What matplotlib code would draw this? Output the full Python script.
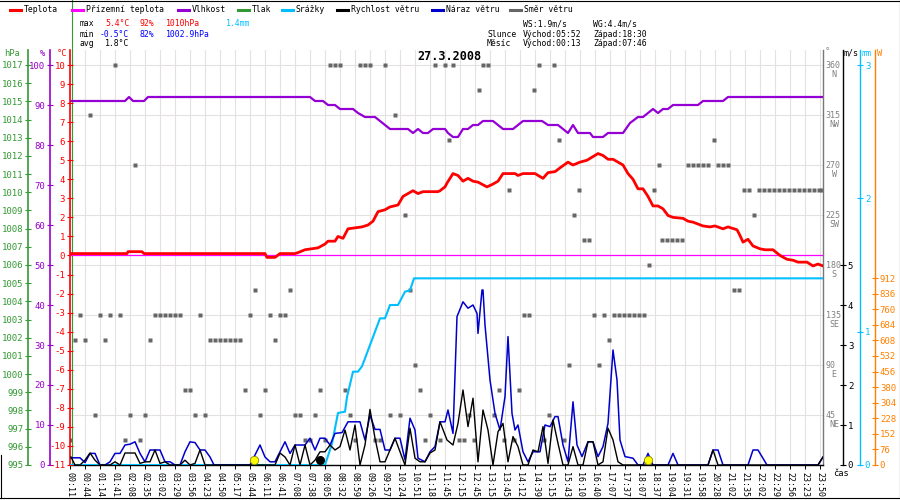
import numpy as np
import matplotlib
matplotlib.use('Agg')
import matplotlib.pyplot as plt
import matplotlib.transforms as mtransforms
from matplotlib.lines import Line2D

plt.rcParams['font.family'] = ['DejaVu Sans Mono', 'DejaVu Sans']
plt.rcParams['font.size'] = 6
plt.rcParams['axes.unicode_minus'] = False

# --- time axis (sample index -> label every 15 samples)
time_labels = ['00:11', '00:44', '01:14', '01:41', '02:08', '02:35', '03:02', '03:29', '03:56',
               '04:23', '04:50', '05:17', '05:44', '06:11', '06:41', '07:08', '07:38', '08:05',
               '08:32', '08:59', '09:26', '09:57', '10:24', '10:51', '11:18', '11:45', '12:15',
               '12:45', '13:15', '13:45', '14:12', '14:39', '15:15', '15:43', '16:10', '16:40',
               '17:07', '17:37', '18:07', '18:37', '19:04', '19:31', '19:58', '20:28', '21:02',
               '21:35', '22:02', '22:29', '22:56', '23:23', '23:50']

# --- temperature (degC)
temp_x = [0, 57, 58, 72, 74, 195, 197, 205, 210, 225, 228, 235, 248, 255, 258, 265, 268, 273, 278,
          285, 292, 298, 303, 308, 315, 320, 328, 333, 343, 348, 353, 368, 370, 375, 377, 383, 388,
          393, 398, 403, 408, 417, 423, 428, 433, 445, 448, 453, 465, 473, 478, 485, 490, 498, 503,
          510, 517, 528, 533, 538, 543, 553, 558, 563, 568, 573, 578, 583, 588, 593, 598, 603, 613,
          618, 623, 633, 640, 645, 653, 658, 667, 670, 673, 678, 683, 690, 695, 703, 710, 717, 723,
          728, 737, 743, 748, 753]
temp_y = [0.1, 0.1, 0.2, 0.2, 0.1, 0.1, -0.1, -0.1, 0.1, 0.1, 0.15, 0.3, 0.4, 0.6, 0.75, 0.75, 1.0,
          0.9, 1.4, 1.45, 1.5, 1.6, 1.8, 2.3, 2.4, 2.55, 2.65, 3.1, 3.4, 3.25, 3.35, 3.35, 3.4, 3.6,
          3.8, 4.3, 4.2, 3.9, 4.05, 3.9, 3.85, 3.6, 3.75, 3.9, 4.3, 4.3, 4.2, 4.3, 4.3, 4.05, 4.35,
          4.4, 4.6, 4.9, 4.75, 4.9, 5.0, 5.35, 5.25, 5.05, 5.05, 4.75, 4.3, 4.0, 3.5, 3.5, 3.1, 2.6,
          2.6, 2.45, 2.1, 2.0, 1.95, 1.8, 1.75, 1.55, 1.5, 1.55, 1.4, 1.5, 1.35, 1.05, 0.7, 0.85,
          0.5, 0.35, 0.3, 0.3, 0.0, -0.2, -0.25, -0.35, -0.35, -0.55, -0.45, -0.55]

# --- ground temperature (degC)
ground_x = [0, 753]
ground_y = [0.0, 0.0]

# --- humidity (%)
hum_x = [0, 55, 59, 63, 74, 78, 240, 245, 253, 258, 265, 270, 283, 288, 295, 305, 310, 315, 320,
         338, 343, 348, 353, 358, 363, 375, 378, 383, 388, 393, 398, 403, 408, 413, 423, 433, 443,
         453, 472, 478, 488, 498, 503, 508, 520, 523, 533, 538, 553, 560, 568, 573, 583, 588, 593,
         598, 603, 628, 633, 653, 658, 753]
hum_y = [91, 91, 92, 91, 91, 92, 92, 91, 91, 90, 90, 89, 89, 88, 87, 87, 86, 85, 84, 84, 83, 84,
         83, 83, 84, 84, 83, 82, 82, 84, 84, 85, 85, 86, 86, 84, 84, 86, 86, 85, 85, 83, 85, 83,
         83, 82, 82, 83, 83, 85.5, 87, 87, 89, 88, 89, 89, 90, 90, 91, 91, 92, 92]

# --- precipitation (mm, cumulative)
rain_x = [0, 255, 262, 268, 275, 277, 283, 288, 292, 310, 315, 320, 328, 335, 340, 344, 753]
rain_y = [0, 0, 0.16, 0.39, 0.40, 0.51, 0.70, 0.70, 0.74, 1.10, 1.10, 1.20, 1.20, 1.30, 1.31, 1.40, 1.40]

# --- wind speed (m/s)
ws_x = [1, 5, 10, 15, 20, 25, 30, 40, 45, 50, 55, 65, 70, 75, 80, 85, 90, 95, 100, 110, 115, 120,
        125, 130, 135, 205, 210, 215, 220, 225, 230, 235, 240, 245, 250, 255, 260, 265, 270, 275,
        280, 285, 290, 295, 300, 305, 310, 315, 325, 330, 335, 340, 345, 350, 355, 360, 365, 370,
        377, 383, 388, 393, 398, 403, 408, 413, 418, 423, 428, 433, 438, 443, 448, 453, 458, 463,
        468, 473, 478, 483, 488, 493, 498, 503, 508, 513, 518, 523, 528, 533, 538, 543, 548, 553,
        638, 643, 648, 748, 753]
ws_y = [0.2, 0, 0, 0.12, 0.3, 0.12, 0, 0, 0.08, 0, 0.3, 0.3, 0.04, 0.08, 0.08, 0.375, 0.04, 0.08,
        0, 0, 0.12, 0, 0.04, 0.375, 0, 0, 0.3, 0.2, 0, 0.5, 0, 0.5, 0, 0.12, 0.33, 0.33, 0.5, 0.375,
        0.46, 0.875, 0.375, 1.0, 0, 0.5, 1.39, 0.67, 0.08, 0.08, 0.67, 0.33, 0, 0.92, 0.17, 0.08,
        0.08, 0.3, 0.375, 1.08, 0.625, 0.5, 1.04, 1.875, 0.96, 1.67, 0.08, 1.375, 0.875, 0, 0.83,
        1.04, 0.08, 0.71, 0.46, 0, 0, 0.375, 0.33, 0.96, 0.04, 1.125, 0.54, 0, 0, 0.46, 0, 0, 0.58,
        0.58, 0, 0.08, 0.92, 0.625, 0.08, 0, 0, 0.375, 0, 0, 0.2]

# --- wind gust (m/s)
wg_x = [1, 10, 15, 20, 25, 30, 35, 40, 45, 50, 55, 60, 65, 70, 75, 80, 90, 95, 100, 105, 110, 115,
        120, 125, 130, 135, 140, 144, 180, 190, 195, 200, 205, 210, 215, 220, 225, 235, 240, 245,
        250, 255, 260, 265, 272, 278, 290, 295, 300, 305, 310, 315, 320, 325, 330, 335, 340, 345,
        348, 355, 360, 365, 370, 375, 378, 383, 387, 393, 398, 403, 407, 408, 412, 413, 415, 420,
        425, 430, 435, 438, 442, 445, 448, 453, 458, 463, 470, 475, 480, 485, 488, 493, 498, 503,
        507, 512, 518, 523, 528, 533, 538, 543, 547, 550, 555, 563, 568, 573, 578, 583, 598, 603,
        608, 638, 643, 648, 653, 678, 683, 688, 697, 748, 753]
wg_y = [0.18, 0.18, 0.06, 0.29, 0.29, 0, 0, 0.08, 0.29, 0.29, 0.5, 0.52, 0.58, 0.29, 0.08, 0.375,
        0.375, 0.08, 0.08, 0, 0, 0.33, 0.58, 0.56, 0.375, 0.375, 0.2, 0, 0, 0.5, 0.2, 0.08, 0.08,
        0.33, 0.58, 0.29, 0.5, 0.5, 0.67, 0.375, 0.67, 0.67, 0.5, 0.79, 0.81, 1.08, 1.08, 0.625,
        1.25, 0.89, 0.89, 0.375, 0.375, 0.67, 0.67, 0.125, 1.17, 0.875, 0.17, 0.08, 0.33, 0.46,
        1.08, 1.08, 1.375, 0.79, 3.71, 4.08, 3.92, 4.0, 3.79, 3.29, 4.375, 4.375, 3.5, 2.125, 1.29,
        0.875, 1.71, 3.21, 1.29, 0.875, 1.0, 0.33, 0.08, 0.33, 0.33, 1.0, 0.96, 1.21, 1.21, 0.5,
        0.08, 1.58, 0.5, 0.21, 0.58, 0.58, 0.21, 0.46, 1.04, 2.875, 2.125, 0.625, 0.21, 0.17, 0,
        0, 0.29, 0, 0, 0.29, 0, 0, 0.375, 0.375, 0, 0, 0.375, 0.375, 0, 0, 0.2]

# --- wind direction (deg)
dir_x = [0, 5, 10, 15, 20, 25, 30, 35, 40, 45, 50, 55, 60, 65, 70, 75, 80, 85, 90, 95, 100, 105,
         110, 115, 120, 125, 130, 135, 140, 145, 150, 155, 160, 165, 170, 175, 180, 185, 190, 195,
         200, 205, 210, 215, 220, 225, 230, 235, 240, 245, 250, 255, 260, 265, 270, 275, 280, 285,
         290, 295, 300, 305, 310, 315, 320, 325, 330, 335, 340, 345, 350, 355, 360, 365, 370, 375,
         379, 383, 389, 394, 399, 404, 409, 413, 418, 424, 429, 434, 439, 444, 449, 454, 459, 464,
         469, 474, 479, 484, 489, 494, 499, 504, 509, 514, 519, 524, 529, 534, 539, 544, 549, 554,
         559, 564, 569, 574, 579, 584, 589, 592, 597, 602, 607, 612, 618, 623, 628, 633, 638, 644,
         648, 653, 658, 664, 669, 674, 679, 684, 689, 694, 699, 704, 709, 714, 719, 724, 729, 734,
         739, 744, 749, 752]
dir_y = [22.5, 112.5, 135, 112.5, 315, 45, 135, 112.5, 135, 360, 135, 22.5, 45, 270, 22.5, 45,
         112.5, 135, 135, 135, 135, 135, 135, 67.5, 67.5, 45, 135, 45, 112.5, 112.5, 112.5, 112.5,
         112.5, 112.5, 112.5, 67.5, 135, 157.5, 45, 67.5, 135, 112.5, 135, 135, 157.5, 45, 45, 22.5,
         22.5, 45, 67.5, 22.5, 360, 360, 360, 67.5, 45, 22.5, 360, 360, 360, 22.5, 22.5, 360, 45,
         315, 45, 225, 157.5, 90, 67.5, 22.5, 45, 360, 22.5, 360, 292.5, 360, 22.5, 22.5, 45, 22.5,
         337.5, 360, 360, 45, 67.5, 22.5, 247.5, 22.5, 67.5, 135, 135, 337.5, 360, 22.5, 45, 360,
         292.5, 22.5, 90, 225, 247.5, 202.5, 202.5, 135, 90, 135, 112.5, 135, 135, 135, 135, 135,
         135, 135, 180, 247.5, 270, 202.5, 202.5, 202.5, 202.5, 202.5, 270, 270, 270, 270, 270,
         292.5, 270, 270, 270, 157.5, 157.5, 247.5, 247.5, 225, 247.5, 247.5, 247.5, 247.5, 247.5,
         247.5, 247.5, 247.5, 247.5, 247.5, 247.5, 247.5, 247.5, 247.5]

# sunrise/sunset and moon markers (sample index)
sun_x = [184, 578]
moon_x = [250]

RED = '#ff0000'
MAG = '#ff00ff'
PUR = '#9400d3'
GRN = '#339933'
CYAN = '#00bfff'
BLUE = '#0000cc'
GRAY = '#666666'
ORANGE = '#ff8000'

W, H = 900, 500


def fx(px):
    return px / W


def fy(py):
    return 1 - py / H


def lims(v0, v1):
    # v0 at bottom (y=465), v1 at y=65, axes top at y=50
    return v0, v1 + (v1 - v0) * 15 / 400


fig = plt.figure(figsize=(9, 5), dpi=100, facecolor='white')
rect = [fx(70), fy(465), (823 - 70) / W, 415 / H]

# base axis: wind direction + grid + time axis
ax_dir = fig.add_axes(rect)
ax_p = ax_dir.twinx()
ax_h = ax_dir.twinx()
ax_t = ax_dir.twinx()
ax_mm = ax_dir.twinx()
ax_w = ax_dir.twinx()
ax_ws = ax_dir.twinx()
for z, a in enumerate([ax_dir, ax_p, ax_h, ax_t, ax_mm, ax_w, ax_ws]):
    a.set_zorder(z + 1)
    a.patch.set_visible(False)
    for s in a.spines.values():
        s.set_visible(False)

ax_dir.set_xlim(0, 753)
ticks = np.arange(0, 751, 15)
ax_dir.set_xticks(ticks)
ax_dir.set_xticklabels(time_labels, rotation=270, fontsize=6)
ax_dir.tick_params(axis='x', length=3, width=0.7, pad=2, color='black')
ax_dir.spines['bottom'].set_visible(True)
ax_dir.spines['bottom'].set_color('black')
ax_dir.spines['bottom'].set_linewidth(1)
ax_dir.grid(True, color='#e6e1e1', lw=0.8)
ax_dir.set_axisbelow(True)

# direction axis (right, gray)
ax_dir.set_ylim(lims(0, 360))
ax_dir.yaxis.tick_right()
ax_dir.set_yticks([0, 45, 90, 135, 180, 225, 270, 315, 360])
ax_dir.set_yticklabels([])
ax_dir.tick_params(axis='y', length=0)
ax_dir.spines['right'].set_visible(True)
ax_dir.spines['right'].set_color('#777777')
ax_dir.spines['right'].set_linewidth(1)
dir_names = ['NE', 'E', 'SE', 'S', 'SW', 'W', 'NW', 'N']
btr = mtransforms.blended_transform_factory(ax_dir.transAxes, ax_dir.transData)
for ang, name in zip([45, 90, 135, 180, 225, 270, 315, 360], dir_names):
    ax_dir.annotate(str(ang), xy=(1, ang), xycoords=btr, xytext=(2, 0), textcoords='offset points',
                    va='center', ha='left', color='#808080', fontsize=6, annotation_clip=False)
    ax_dir.annotate(name, xy=(1, ang), xycoords=btr, xytext=(8, -7), textcoords='offset points',
                    va='center', ha='center', color='#808080', fontsize=6, annotation_clip=False)
ax_dir.plot(dir_x, dir_y, 's', color=GRAY, ms=3.2, mec='none')


def left_axis(a, pos, color, ticks, lim):
    a.yaxis.tick_left()
    a.spines['left'].set_visible(True)
    a.spines['left'].set_position(('axes', pos))
    a.spines['left'].set_color(color)
    a.spines['left'].set_linewidth(1.2)
    a.set_ylim(lim)
    a.set_yticks(ticks)
    a.tick_params(axis='y', direction='inout', length=4, width=0.8, colors=color, pad=1.5,
                  labelsize=6.5)


def right_axis(a, pos, color, ticks, lim):
    a.yaxis.tick_right()
    a.spines['right'].set_visible(True)
    a.spines['right'].set_position(('axes', pos))
    a.spines['right'].set_color(color)
    a.spines['right'].set_linewidth(1.0)
    a.set_ylim(lim)
    a.set_yticks(ticks)
    a.tick_params(axis='y', direction='inout', length=4, width=0.8, colors=color, pad=1.5,
                  labelsize=6.5)


left_axis(ax_p, -42 / 753, GRN, np.arange(995, 1018), lims(995, 1017))
left_axis(ax_h, -20 / 753, '#9900cc', np.arange(0, 101, 10), lims(0, 100))
left_axis(ax_t, 0, RED, np.arange(-11, 11), lims(-11, 10))
right_axis(ax_ws, 20 / 753 + 1, 'black', np.arange(0, 6), lims(0, 10))
right_axis(ax_mm, 37 / 753 + 1, CYAN, np.arange(0, 4), lims(0, 3))
right_axis(ax_w, 52 / 753 + 1, ORANGE, np.arange(0, 913, 76), (0, 912 * 415 / 187))

# series
ax_h.plot(hum_x, hum_y, color=PUR, lw=1.6)
ax_t.plot(ground_x, ground_y, color=MAG, lw=0.9)
ax_t.plot(temp_x, temp_y, color=RED, lw=2.0)
ax_mm.plot(rain_x, rain_y, color=CYAN, lw=1.5)
ax_ws.plot(wg_x, wg_y, color=BLUE, lw=1.1)
ax_ws.plot(ws_x, ws_y, color='black', lw=1.0)
ax_ws.plot(sun_x, [0.12] * len(sun_x), 'o', color='#ffff00', mec='#888800', mew=0.6, ms=6)
ax_ws.plot(moon_x, [0.12] * len(moon_x), 'o', color='black', ms=5.5)

# vertical green line through header
fig.add_artist(Line2D([fx(71.5), fx(71.5)], [fy(0), fy(465)], color=GRN, lw=0.8))

# frame
for xs, ys in [((0, 900), (0.5, 0.5)), ((899.5, 899.5), (0, 498)), ((0, 900), (498, 498)),
               ((0.5, 0.5), (455, 498))]:
    fig.add_artist(Line2D([fx(xs[0]), fx(xs[1])], [fy(ys[0]), fy(ys[1])], color='black', lw=0.8))

# legend
legend_items = [(10, 'Teplota', RED), (72, 'Přízemní teplota', MAG), (178, 'Vlhkost', PUR),
                (238, 'Tlak', GRN), (282, 'Srážky', CYAN), (337, 'Rychlost větru', 'black'),
                (432, 'Náraz větru', BLUE), (510, 'Směr větru', GRAY)]
for x0, label, c in legend_items:
    fig.add_artist(Line2D([fx(x0), fx(x0 + 11)], [fy(9.5), fy(9.5)], color=c, lw=2.2))
    fig.text(fx(x0 + 14), fy(10), label, fontsize=5.9, va='center', ha='left')


# stats block
def t(x, y, s, c='black', size=5.9, **kw):
    fig.text(fx(x), fy(y), s, color=c, fontsize=size, va='center', ha='left', **kw)


t(80, 24, 'max')
t(105, 24, '5.4°C', RED)
t(139, 24, '92%', RED)
t(166, 24, '1010hPa', RED)
t(226, 24, '1.4mm', CYAN)
t(80, 34, 'min')
t(100, 34, '-0.5°C', '#0000ff')
t(139, 34, '82%', '#0000ff')
t(166, 34, '1002.9hPa', '#0000ff')
t(80, 44, 'avg')
t(105, 44, '1.8°C')

t(523, 24, 'WS:1.9m/s')
t(593, 24, 'WG:4.4m/s')
t(487, 34, 'Slunce')
t(523, 34, 'Východ:05:52')
t(593, 34, 'Západ:18:30')
t(487, 44, 'Měsíc')
t(523, 44, 'Východ:00:13')
t(593, 44, 'Západ:07:46')

fig.text(fx(449), fy(57), '27.3.2008', fontsize=8.5, fontweight='bold', ha='center', va='center')

# axis unit headers
t(4, 53, 'hPa', GRN, 6.3)
t(40, 53, '%', '#9900cc', 6.3)
t(57, 53, '°C', RED, 6.3)
t(825, 52, '°', '#808080', 6.3)
t(844, 53, 'm/s', 'black', 6)
t(862, 53, 'mm', CYAN, 6)
t(877, 53, 'W', ORANGE, 6.3)
t(833, 474, 'čas', 'black', 6.3)

fig.savefig('out.png', dpi=100, facecolor='white')
